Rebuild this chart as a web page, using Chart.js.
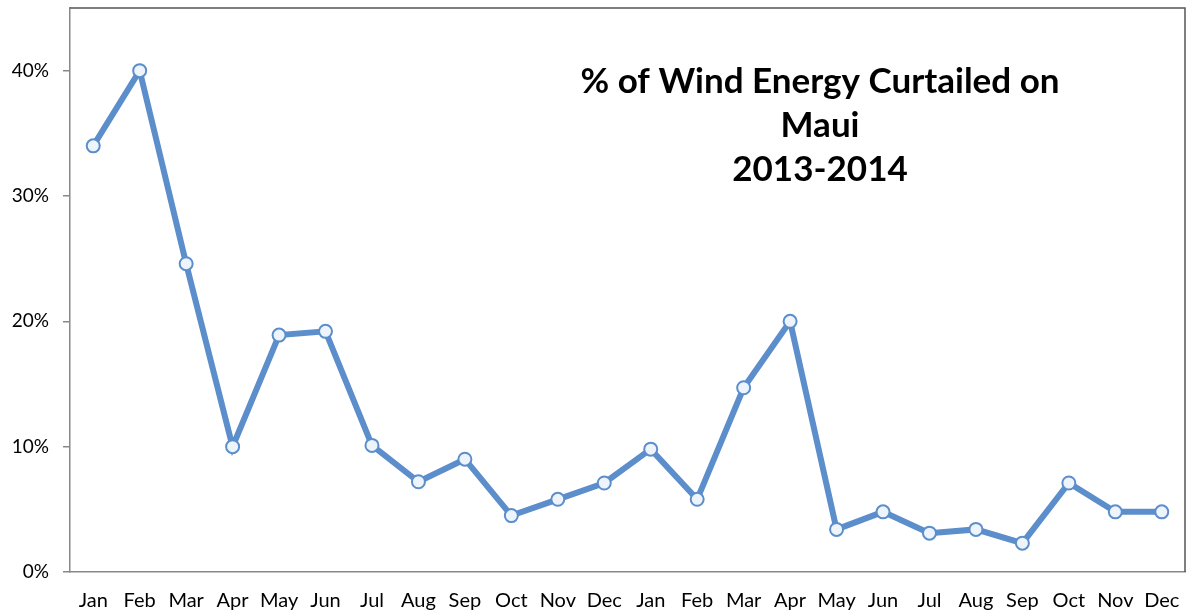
<!DOCTYPE html>
<html>
<head>
<meta charset="utf-8">
<script src="https://cdn.jsdelivr.net/npm/chart.js@4/dist/chart.umd.min.js"></script>
<style>
  html, body { margin: 0; padding: 0; background: #fff; }
  #wrap { width: 1188px; height: 615px; }
</style>
</head>
<body>
<div id="wrap"><canvas id="graph"></canvas></div>
<script>
// months, 2013 then 2014
const months = ['Jan', 'Feb', 'Mar', 'Apr', 'May', 'Jun', 'Jul', 'Aug', 'Sep', 'Oct', 'Nov', 'Dec',
                'Jan', 'Feb', 'Mar', 'Apr', 'May', 'Jun', 'Jul', 'Aug', 'Sep', 'Oct', 'Nov', 'Dec'];
// percent of wind energy curtailed
const curtailed = [34.0, 40.0, 24.6, 10.0, 18.9, 19.2, 10.1, 7.2, 9.0, 4.5, 5.8, 7.1,
                   9.8, 5.8, 14.7, 20.0, 3.4, 4.8, 3.1, 3.4, 2.3, 7.1, 4.8, 4.8];
const yTicks = [0, 10, 20, 30, 40];
const titleLines = ['% of Wind Energy Curtailed on', 'Maui', '2013-2014'];

// frame around plot + title inside plot area
const framePlugin = {
  id: 'frame',
  afterDraw(chart) {
    const ctx = chart.ctx, a = chart.chartArea;
    ctx.save();
    ctx.strokeStyle = '#555';
    ctx.lineWidth = 1.5;
    ctx.beginPath();
    ctx.moveTo(a.left, a.top);
    ctx.lineTo(a.right, a.top);
    ctx.lineTo(a.right, a.bottom);
    ctx.stroke();
    ctx.fillStyle = '#000';
    ctx.font = 'bold 35px Lato';
    ctx.textAlign = 'center';
    ctx.textBaseline = 'middle';
    titleLines.forEach((t, i) => ctx.fillText(t, 820, 82 + i * 44));
    ctx.restore();
  }
};

let myChart = document.getElementById('graph').getContext('2d');

new Chart(myChart, {
  type: 'line',
  data: {
    labels: months,
    datasets: [{
      data: curtailed,
      tension: 0,
      borderColor: '#5b8ecb',
      borderWidth: 6,
      pointRadius: 6.5,
      pointBackgroundColor: '#eef4fb',
      pointBorderColor: '#5b8ecb',
      pointBorderWidth: 2
    }]
  },
  plugins: [framePlugin],
  options: {
    responsive: true,
    maintainAspectRatio: false,
    animation: false,
    layout: { autoPadding: false, padding: { top: 8, right: 3, left: 0, bottom: 0 } },
    plugins: { legend: { display: false }, tooltip: { enabled: false } },
    scales: {
      x: {
        offset: true,
        grid: { display: false },
        border: { color: '#888', width: 1.5 },
        ticks: { color: '#000', font: { family: 'Lato', size: 20 }, maxRotation: 0, autoSkip: false, padding: 9 },
        afterFit(s) { s.height = 43; s.paddingLeft = 0; s.paddingRight = 0; }
      },
      y: {
        min: 0,
        max: 45,
        afterBuildTicks(s) { s.ticks = yTicks.map(v => ({ value: v })); },
        grid: { drawOnChartArea: false, drawTicks: true, tickLength: 7, color: '#888', lineWidth: 1.5 },
        border: { color: '#888', width: 1.5 },
        ticks: { color: '#000', font: { family: 'Lato', size: 19 }, padding: 14, callback: v => v + '%' },
        afterFit(s) { s.width = 70; s.paddingTop = 0; s.paddingBottom = 0; }
      }
    }
  }
});
</script>
</body>
</html>
